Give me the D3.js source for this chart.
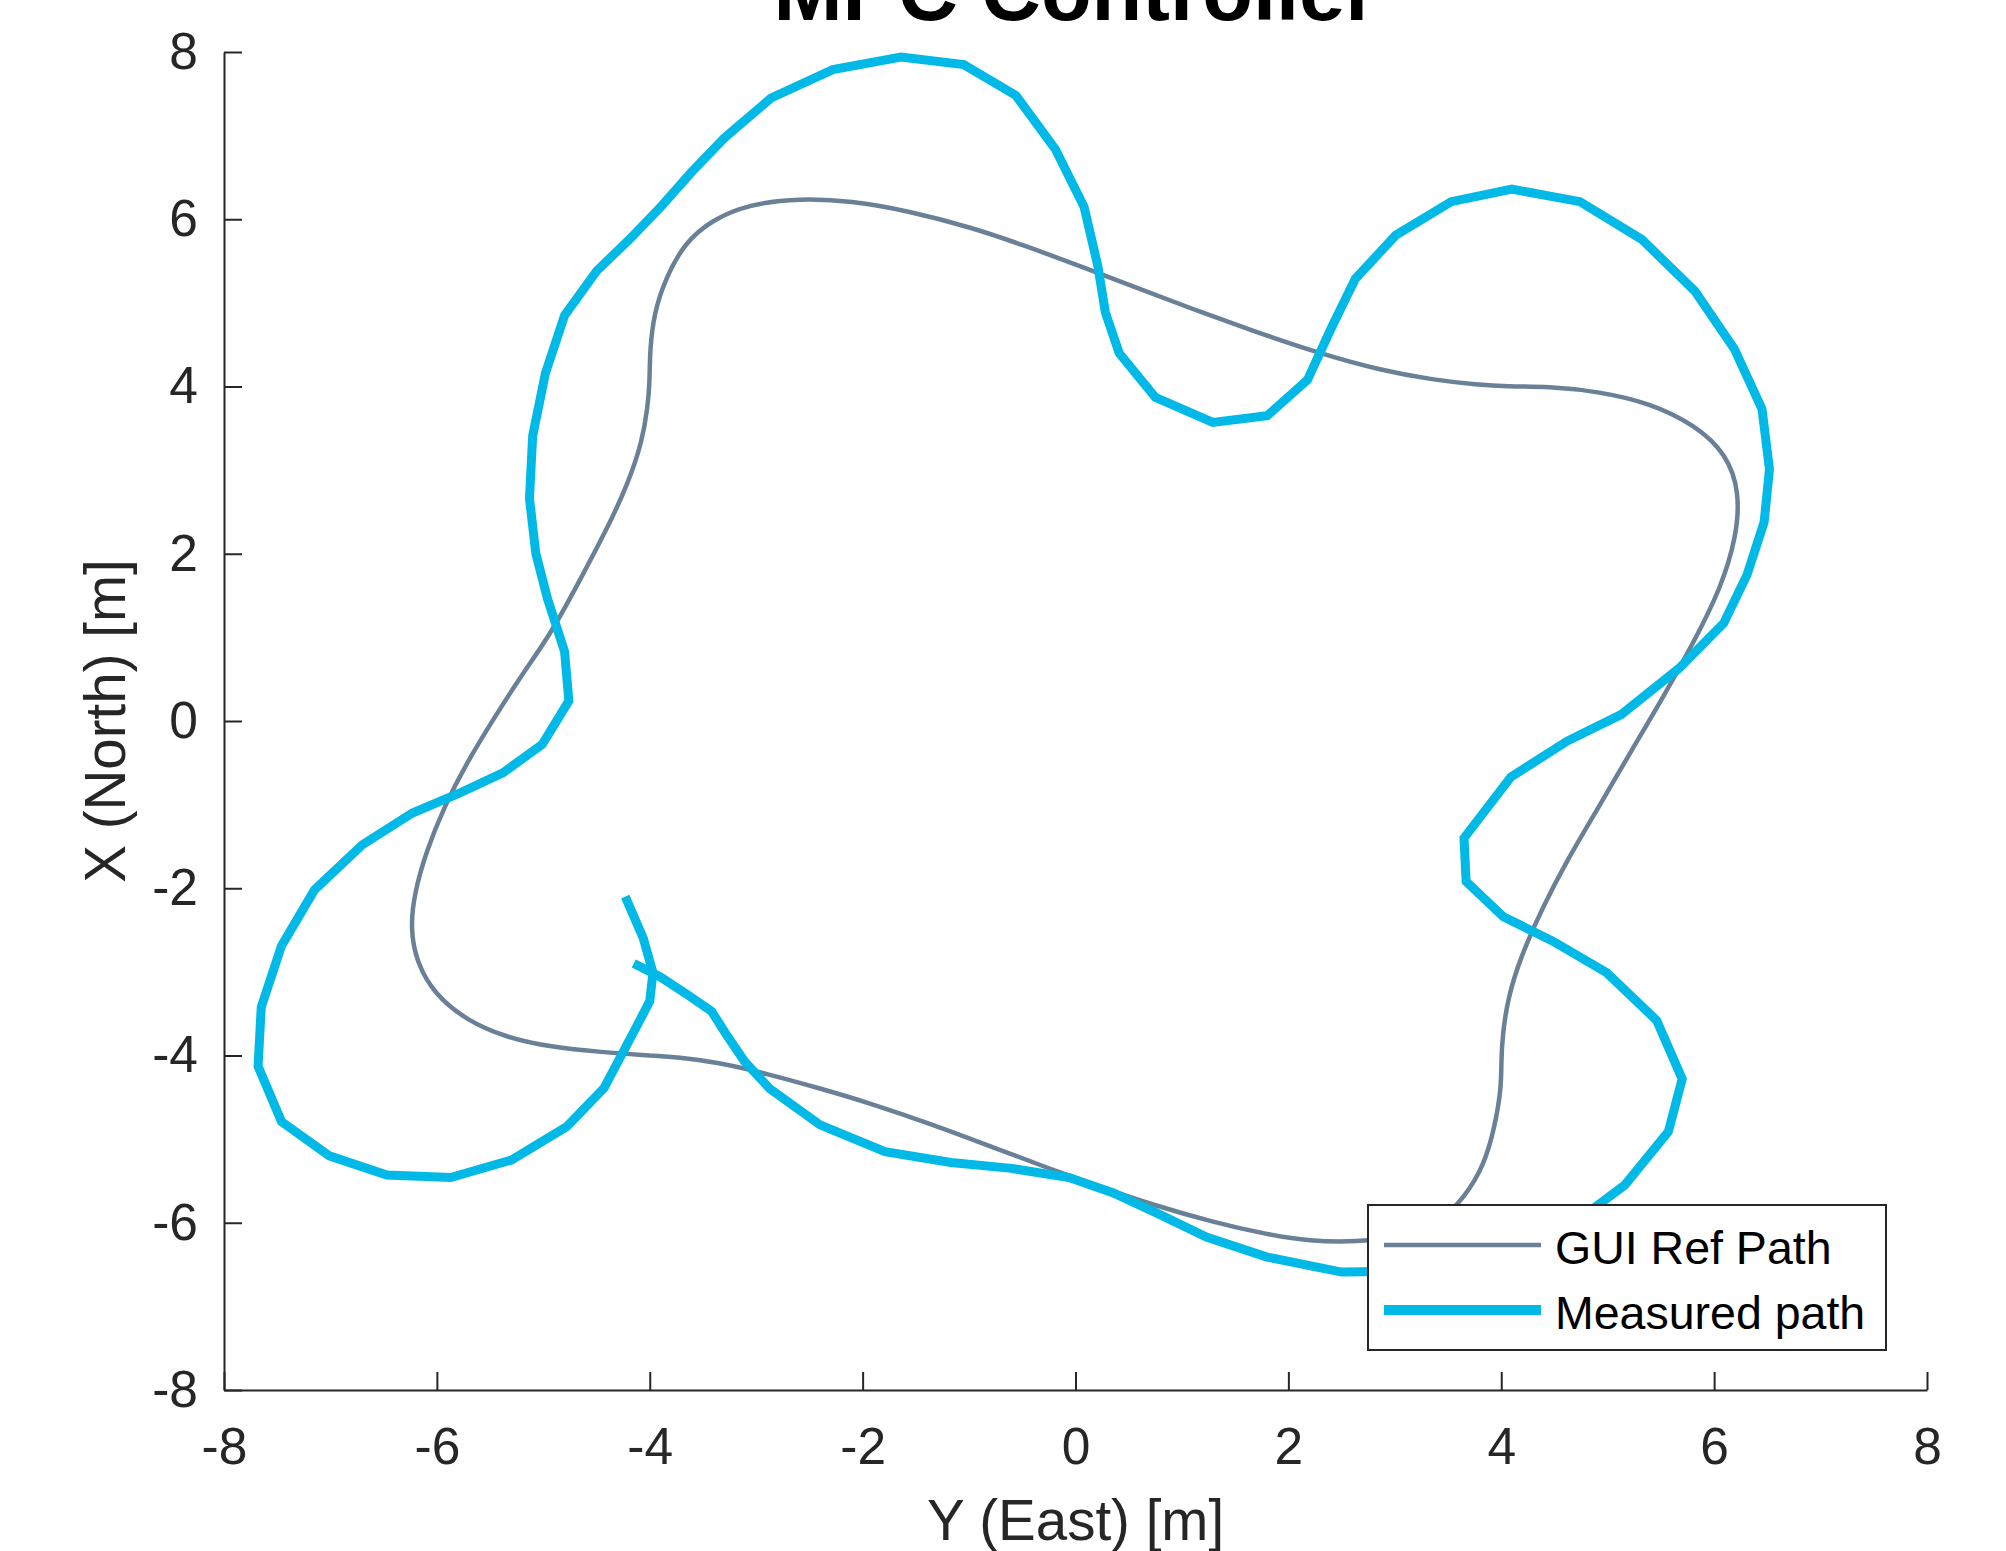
<!DOCTYPE html>
<html>
  <head>
    <meta charset="utf-8">
    <title>MPC Controller</title>
    <script src="https://d3js.org/d3.v7.min.js"></script>
    <style type="text/css">
      body { margin: 0; background: #fff; }
      text { font-family: "Liberation Sans", Arial, Helvetica, sans-serif; }
    </style>
  </head>
  <body>
    <div id="chart"></div>
    <script>

      // reference path (GUI), east = horizontal axis, north = vertical axis
      var refEast = [-4.00, -4.45, -4.93, -5.36, -5.72, -6.02, -6.19, -6.25, -6.21, -6.10,
                     -5.93, -5.72, -5.47, -5.22, -4.92, -4.65, -4.40, -4.20, -4.07, -4.02, -4.00,
                     -4.00, -3.96, -3.85, -3.67, -3.42, -3.07, -2.59, -2.11, -1.57, -0.97,
                     -0.49, 0.00, 0.47, 1.07, 1.68, 2.28, 2.88, 3.36, 3.78, 4.05,
                     4.44, 4.92, 5.40, 5.82, 6.12, 6.24, 6.21, 6.06, 5.82, 5.52,
                     5.22, 4.92, 4.62, 4.38, 4.18, 4.06, 4.01, 4.00,
                     4.00, 3.94, 3.84, 3.66, 3.42, 3.06, 2.64, 2.20, 1.80, 1.31,
                     0.71, 0.23, -0.25, -0.73, -1.33, -1.93, -2.41, -2.89, -3.37, -3.73, -4.00];
      var refNorth = [-4.00, -3.96, -3.90, -3.78, -3.58, -3.27, -2.89, -2.48, -2.05, -1.56,
                      -1.02, -0.50, 0.02, 0.52, 1.06, 1.70, 2.30, 2.85, 3.35, 3.75, 4.05,
                      4.42, 4.88, 5.30, 5.72, 5.99, 6.18, 6.25, 6.22, 6.10, 5.90,
                      5.69, 5.46, 5.23, 4.94, 4.66, 4.40, 4.19, 4.08, 4.02, 4.00,
                      4.00, 3.94, 3.80, 3.54, 3.19, 2.73, 2.20, 1.58, 0.97, 0.28,
                      -0.36, -1.02, -1.66, -2.25, -2.83, -3.32, -3.78, -4.08,
                      -4.39, -4.85, -5.31, -5.69, -6.00, -6.17, -6.23, -6.22, -6.14, -6.00,
                      -5.78, -5.57, -5.35, -5.12, -4.83, -4.57, -4.39, -4.22, -4.08, -4.02, -4.00];

      // measured path
      var measEast = [-4.23, -4.06, -3.97, -4.00, -4.11, -4.43, -4.78, -5.30, -5.87, -6.47,
                      -7.01, -7.46, -7.68, -7.65, -7.46, -7.15, -6.70, -6.23, -5.80, -5.38,
                      -5.01, -4.76, -4.80, -4.96, -5.07, -5.13, -5.10, -4.98, -4.80, -4.50,
                      -4.19, -3.91, -3.61, -3.30, -2.86, -2.28, -1.64, -1.05, -0.56, -0.19,
                      0.08, 0.21, 0.28, 0.41, 0.75, 1.29, 1.80, 2.18, 2.40, 2.63,
                      3.01, 3.53, 4.10, 4.74, 5.32, 5.82, 6.19, 6.45, 6.52, 6.47,
                      6.31, 6.09, 5.67, 5.13, 4.62, 4.09, 3.65, 3.67, 4.02, 4.48,
                      4.99, 5.46, 5.70, 5.57, 5.16, 4.80, 4.32, 3.72, 3.12, 2.50,
                      1.80, 1.23, 0.74, 0.35, -0.06, -0.60, -1.17, -1.79, -2.40, -2.87,
                      -3.11, -3.29, -3.42, -3.66, -3.90, -4.15];
      var measNorth = [-2.10, -2.60, -3.01, -3.35, -3.62, -4.39, -4.85, -5.25, -5.46, -5.43,
                       -5.20, -4.79, -4.13, -3.42, -2.69, -2.02, -1.48, -1.10, -0.87, -0.62,
                       -0.28, 0.24, 0.83, 1.46, 2.00, 2.66, 3.41, 4.16, 4.85, 5.38,
                       5.76, 6.13, 6.56, 6.97, 7.45, 7.79, 7.94, 7.85, 7.48, 6.84,
                       6.15, 5.44, 4.89, 4.40, 3.87, 3.57, 3.65, 4.08, 4.69, 5.29,
                       5.81, 6.21, 6.36, 6.21, 5.76, 5.14, 4.45, 3.73, 3.01, 2.38,
                       1.75, 1.17, 0.63, 0.08, -0.24, -0.67, -1.40, -1.92, -2.34, -2.63,
                       -3.01, -3.58, -4.28, -4.91, -5.55, -5.89, -6.20, -6.43, -6.58, -6.59,
                       -6.41, -6.17, -5.87, -5.64, -5.46, -5.35, -5.28, -5.15, -4.83, -4.40,
                       -4.07, -3.73, -3.47, -3.26, -3.06, -2.90];

      var tickValues = [-8, -6, -4, -2, 0, 2, 4, 6, 8];
      var legendLabels = ["GUI Ref Path", "Measured path"];
      var refColor = "#6a8097";
      var measColor = "#00b9e6";

      var width = 2006, height = 1551;
      var plotLeft = 224, plotRight = 1927, plotTop = 52, plotBottom = 1390;

      var svg = d3.select("#chart")
        .append("svg")
          .attr("width", width)
          .attr("height", height);

      var x = d3.scaleLinear().domain([-8, 8]).range([plotLeft, plotRight]);
      var y = d3.scaleLinear().domain([-8, 8]).range([plotBottom, plotTop]);

      var line = d3.line()
        .x(function(d) { return x(d[0]); })
        .y(function(d) { return y(d[1]); });

      var refPts = refEast.map(function(e, i) { return [e, refNorth[i]]; });
      var measPts = measEast.map(function(e, i) { return [e, measNorth[i]]; });

      // GUI reference path (smooth spline)
      svg.append("path")
        .datum(refPts)
        .attr("d", line.curve(d3.curveBasis))
        .attr("fill", "none")
        .attr("stroke", refColor)
        .attr("stroke-width", 4.5);

      // measured path (polyline)
      svg.append("path")
        .datum(measPts)
        .attr("d", line.curve(d3.curveLinear))
        .attr("fill", "none")
        .attr("stroke", measColor)
        .attr("stroke-width", 9)
        .attr("stroke-linejoin", "miter");

      // axes, ticks pointing inwards, no box; plain hyphen for negatives like matlab
      var fmt = function(d) { return String(d); };
      var xAxis = svg.append("g")
        .attr("transform", "translate(0," + plotBottom + ")")
        .call(d3.axisBottom(x).tickValues(tickValues).tickFormat(fmt)
          .tickSizeInner(-18).tickSizeOuter(0).tickPadding(37));
      var yAxis = svg.append("g")
        .attr("transform", "translate(" + plotLeft + ",0)")
        .call(d3.axisLeft(y).tickValues(tickValues).tickFormat(fmt)
          .tickSizeInner(-18).tickSizeOuter(0).tickPadding(26));

      [xAxis, yAxis].forEach(function(g) {
        g.attr("font-family", null).attr("font-size", null);
        g.select(".domain").attr("stroke", "#262626").attr("stroke-width", 2);
        g.selectAll(".tick line").attr("stroke", "#262626").attr("stroke-width", 2);
        g.selectAll(".tick text")
          .attr("fill", "#262626")
          .style("font-size", "51.5px");
      });

      // labels
      svg.append("text")
        .attr("x", (plotLeft + plotRight) / 2)
        .attr("y", 1540)
        .attr("text-anchor", "middle")
        .attr("fill", "#262626")
        .style("font-size", "56.5px")
        .text("Y (East) [m]");

      svg.append("text")
        .attr("transform", "translate(125," + ((plotTop + plotBottom) / 2) + ") rotate(-90)")
        .attr("text-anchor", "middle")
        .attr("fill", "#262626")
        .style("font-size", "56.5px")
        .text("X (North) [m]");

      // title, cut off by the top edge like the original
      svg.append("text")
        .attr("x", (plotLeft + plotRight) / 2)
        .attr("y", 20)
        .attr("text-anchor", "middle")
        .attr("fill", "#000")
        .style("font-size", "83px")
        .style("font-weight", "bold")
        .text("MPC Controller");

      // legend
      var lg = svg.append("g");
      lg.append("rect")
        .attr("x", 1368).attr("y", 1205)
        .attr("width", 518).attr("height", 145)
        .attr("fill", "#fff")
        .attr("stroke", "#262626")
        .attr("stroke-width", 2);

      var items = [
        { label: legendLabels[0], color: refColor, w: 4.5 },
        { label: legendLabels[1], color: measColor, w: 10 }
      ];
      items.forEach(function(it, i) {
        var ly = 1245 + i * 65;
        lg.append("line")
          .attr("x1", 1384).attr("x2", 1541)
          .attr("y1", ly).attr("y2", ly)
          .attr("stroke", it.color)
          .attr("stroke-width", it.w);
        lg.append("text")
          .attr("x", 1555)
          .attr("y", ly + 19)
          .attr("fill", "#000")
          .style("font-size", "46.5px")
          .text(it.label);
      });

    </script>
  </body>
</html>
